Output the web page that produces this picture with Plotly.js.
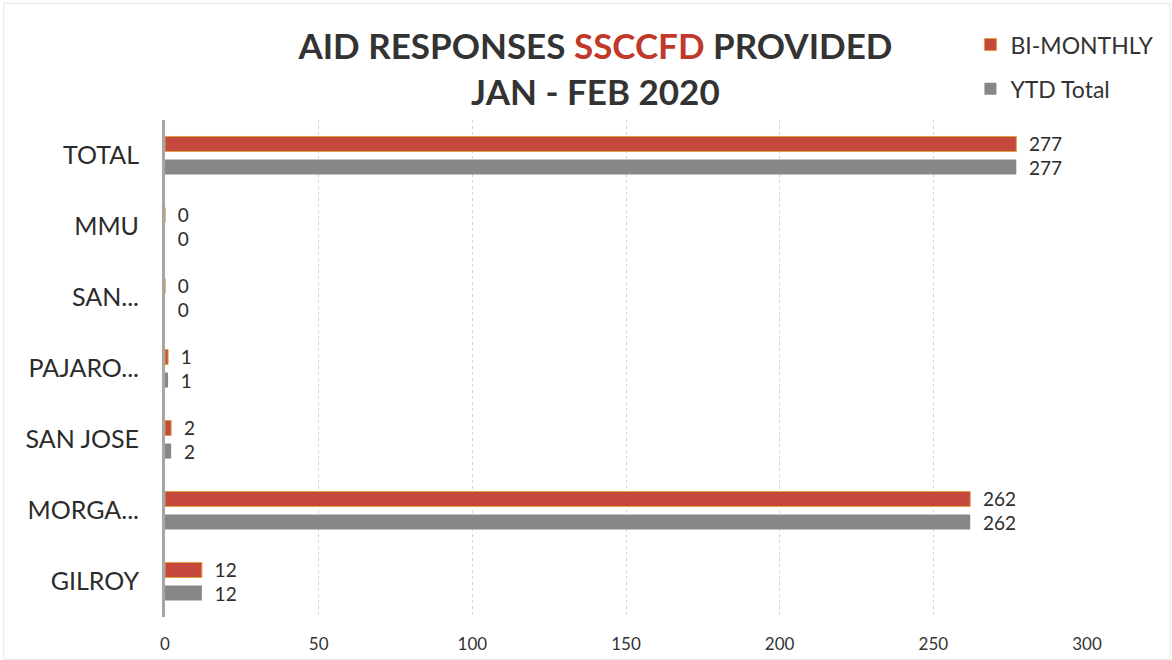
<!DOCTYPE html>
<html>
<head>
<meta charset="utf-8">
<script src="https://cdn.plot.ly/plotly-3.0.1.min.js"></script>
<style>html,body{margin:0;padding:0;background:#fff;}#chart{width:1172px;height:660px;}</style>
</head>
<body>
<div id="chart"></div>
<script>
const categories = ["GILROY", "MORGA...", "SAN JOSE", "PAJARO...", "SAN...", "MMU", "TOTAL"];
const biMonthly = [12, 262, 2, 1, 0, 0, 277];
const ytdTotal = [12, 262, 2, 1, 0, 0, 277];
const xTicks = [0, 50, 100, 150, 200, 250, 300];

const FONT = "Lato, 'Open Sans', sans-serif";
const RED = "#c4483c";
const GRAY = "#878787";

const traces = [
  {
    type: "bar", orientation: "h", name: "YTD Total",
    y: categories, x: ytdTotal,
    texttemplate: "\u00a0\u00a0%{x}", textposition: "outside", cliponaxis: false,
    constraintext: "none",
    textfont: {family: FONT, size: 19, color: "#2b2b2b"},
    marker: {color: GRAY, line: {width: 0}},
    legend: "legend2", showlegend: true
  },
  {
    type: "bar", orientation: "h", name: "BI-MONTHLY",
    y: categories, x: biMonthly,
    texttemplate: "\u00a0\u00a0%{x}", textposition: "outside", cliponaxis: false,
    constraintext: "none",
    textfont: {family: FONT, size: 19, color: "#2b2b2b"},
    marker: {color: RED, line: {width: 1, color: "#e0a040"}},
    legend: "legend", showlegend: true
  }
];

const layout = {
  width: 1172, height: 660,
  showlegend: true,
  paper_bgcolor: "#fff", plot_bgcolor: "#fff",
  margin: {l: 165, r: 85, t: 120, b: 43, autoexpand: false},
  barmode: "group", bargap: 0.35, bargroupgap: 0.35,
  font: {family: FONT, color: "#2b2b2b"},
  title: {
    text: "AID RESPONSES <span style='color:#c0392b'>SSCCFD</span> PROVIDED<br>JAN - FEB 2020",
    font: {family: FONT, size: 35, color: "#333333", weight: "bold"},
    x: 0.508, xref: "container", xanchor: "center",
    y: 0.91, yref: "container", yanchor: "top"
  },
  xaxis: {
    range: [0, 300], tickvals: xTicks, ticktext: xTicks.map(String),
    showgrid: true, gridcolor: "#d4d4d4", griddash: "dot", gridwidth: 1,
    zeroline: false, showline: false, ticks: "",
    tickfont: {family: FONT, size: 17, color: "#333"},
    ticklabelstandoff: 15,
    fixedrange: true
  },
  yaxis: {
    type: "category", categoryorder: "array", categoryarray: categories,
    showline: true, linecolor: "#a6a6a6", linewidth: 3,
    showgrid: false, zeroline: false, ticks: "",
    tickfont: {family: FONT, size: 25, color: "#2b2b2b"},
    ticklabelstandoff: 18,
    fixedrange: true
  },
  legend: {
    x: 0.828, y: 0.965, xref: "container", yref: "container",
    xanchor: "left", yanchor: "top", itemwidth: 30,
    font: {family: FONT, size: 23, color: "#333"},
    bgcolor: "rgba(0,0,0,0)"
  },
  legend2: {
    x: 0.828, y: 0.898, xref: "container", yref: "container",
    xanchor: "left", yanchor: "top", itemwidth: 30,
    font: {family: FONT, size: 23, color: "#333"},
    bgcolor: "rgba(0,0,0,0)"
  },
  shapes: [
    {type: "rect", xref: "paper", yref: "paper", x0: -0.175, x1: 1.09, y0: -0.085, y1: 1.235,
     line: {color: "#e6e6e6", width: 1}, fillcolor: "rgba(0,0,0,0)", layer: "below"}
  ]
};

Plotly.newPlot("chart", traces, layout, {displayModeBar: false, staticPlot: true});
</script>
</body>
</html>
